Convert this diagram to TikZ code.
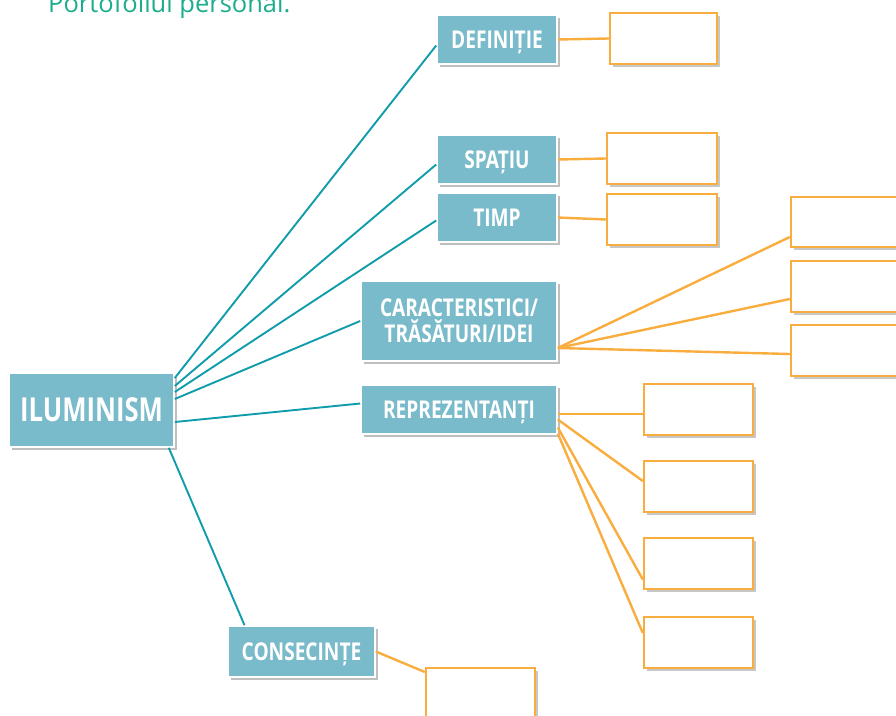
\documentclass[tikz,border=0pt]{standalone}
\usepackage{fontspec}
\setmainfont{Open Sans}
\newfontfamily\boxfont{Open Sans}[FakeStretch=0.78]
\usetikzlibrary{shadows}
\definecolor{boxteal}{HTML}{7ABBCB}
\definecolor{lineteal}{HTML}{109CAB}
\definecolor{ansorange}{HTML}{F8AD3E}
\definecolor{titlegreen}{HTML}{1BAD8D}
\tikzset{
  topic/.style={draw=white, line width=1.6pt, fill=boxteal, text=white,
    font=\boxfont\bfseries\fontsize{24.5}{26}\selectfont, align=center,
    inner sep=0pt, minimum width=#1,
    drop shadow={shadow xshift=3pt, shadow yshift=-3pt, opacity=0.25, fill=black}},
  oneline/.style={text height=17.5pt, text depth=0pt},
  answer/.style={draw=ansorange, line width=2.4pt, fill=white, inner sep=0pt,
    minimum width=#1,
    drop shadow={shadow xshift=3pt, shadow yshift=-3pt, opacity=0.22, fill=black}},
  tline/.style={draw=lineteal, line width=1.9pt},
  oline/.style={draw=ansorange, line width=2.4pt}
}
\begin{document}
\begin{tikzpicture}[x=1pt,y=-1pt]
\useasboundingbox (0,0) rectangle (896,715);
\node[anchor=base west, text=titlegreen, font=\fontsize{25.5}{27}\selectfont, inner sep=0pt] (title) at (48,12) {Portofoliul personal.};
% topic boxes
\node[topic=120pt, oneline, minimum height=49pt] (def) at (497,39.5) {DEFINIȚIE};
\node[topic=120pt, oneline, minimum height=49pt] (spa) at (497,159.5) {SPAȚIU};
\node[topic=120pt, oneline, minimum height=49pt] (tim) at (497,217.5) {TIMP};
\node[topic=196pt, minimum height=80pt] (car) at (459,321) {CARACTERISTICI/\\TRĂSĂTURI/IDEI};
\node[topic=196pt, oneline, minimum height=49pt] (rep) at (459,409.5) {REPREZENTANȚI};
\node[topic=165pt, minimum height=74pt, text height=23.5pt, text depth=0pt, font=\boxfont\bfseries\fontsize{33}{36}\selectfont] (ilu) at (91.5,410) {ILUMINISM};
\node[topic=147pt, oneline, minimum height=51pt] (con) at (301.5,651.5) {CONSECINȚE};
% answer boxes
\node[answer=107pt, minimum height=51pt] (defA) at (663.5,38.5) {};
\node[answer=110pt, minimum height=51pt] (spaA) at (662,158.5) {};
\node[answer=110pt, minimum height=51pt] (timA) at (662,219.5) {};
\node[answer=110pt, minimum height=50pt] (carA1) at (846,222) {};
\node[answer=110pt, minimum height=51pt] (carA2) at (846,286.5) {};
\node[answer=110pt, minimum height=51pt] (carA3) at (846,350.5) {};
\node[answer=109pt, minimum height=51pt] (repA1) at (698.5,409.5) {};
\node[answer=109pt, minimum height=51pt] (repA2) at (698.5,486.5) {};
\node[answer=109pt, minimum height=51pt] (repA3) at (698.5,563.5) {};
\node[answer=109pt, minimum height=51pt] (repA4) at (698.5,642.5) {};
\node[answer=109pt, minimum height=50pt] (conA) at (480.5,693) {};
% teal connectors
\draw[tline] ([yshift=32pt]ilu.east) -- ([yshift=-6pt]def.west);
\draw[tline] ([yshift=24pt]ilu.east) -- ([yshift=-5pt]spa.west);
\draw[tline] ([yshift=18pt]ilu.east) -- ([yshift=-3pt]tim.west);
\draw[tline] ([yshift=11pt]ilu.east) -- (car.west);
\draw[tline] ([yshift=-12pt]ilu.east) -- ([yshift=6pt]rep.west);
\draw[tline] ([xshift=-6pt]ilu.south east) -- ([xshift=-57pt]con.north);
% orange connectors
\draw[oline] (def.east) -- (defA.west);
\draw[oline] (spa.east) -- (spaA.west);
\draw[oline] (tim.east) -- (timA.west);
\draw[oline] ([yshift=-27pt]car.east) -- ([yshift=-15pt]carA1.west);
\draw[oline] ([yshift=-27pt]car.east) -- ([yshift=-12.5pt]carA2.west);
\draw[oline] ([yshift=-27pt]car.east) -- ([yshift=-3.5pt]carA3.west);
\draw[oline] ([yshift=-4.5pt]rep.east) -- ([yshift=-4.5pt]repA1.west);
\draw[oline] ([yshift=-10pt]rep.east) -- ([yshift=5.5pt]repA2.west);
\draw[oline] ([yshift=-18pt]rep.east) -- ([yshift=-16pt]repA3.west);
\draw[oline] ([yshift=-24pt]rep.east) -- ([yshift=9.5pt]repA4.west);
\draw[oline] (con.east) -- ([yshift=21pt]conA.west);
\end{tikzpicture}
\end{document}
